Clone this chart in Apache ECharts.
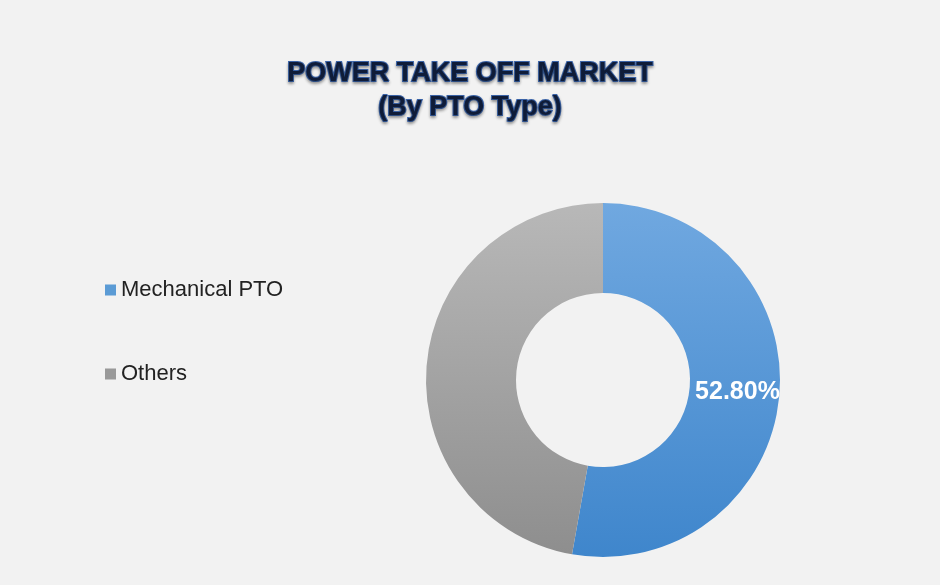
<!DOCTYPE html>
<html><head><meta charset="utf-8">
<script src="https://cdn.jsdelivr.net/npm/echarts@6/dist/echarts.min.js"></script>
<style>html,body{margin:0;background:#f2f2f2}#c{width:940px;height:585px}</style>
</head><body><div id="c"></div>
<script>
const categories = ["Mechanical PTO", "Others"];
const values = [52.8, 47.2];
const labels = ["52.80%", ""];
const colors = [
  new echarts.graphic.LinearGradient(0,0,0,1,[{offset:0,color:'#70a8e0'},{offset:1,color:'#3f86cc'}]),
  new echarts.graphic.LinearGradient(0,0,0,1,[{offset:0,color:'#b8b8b8'},{offset:1,color:'#8e8e8e'}])
];
const chart = echarts.init(document.getElementById('c'));
chart.setOption({
  backgroundColor:'#f2f2f2',
  title:{text:'POWER TAKE OFF MARKET\n(By PTO Type)',left:'center',top:52,
    textStyle:{fontFamily:'Liberation Sans',fontWeight:'bold',fontSize:27,lineHeight:34,color:'#0f1c38',
      textBorderColor:'#3a63a8',textBorderWidth:2,textShadowColor:'rgba(0,0,0,0.3)',textShadowBlur:3,textShadowOffsetY:2}},
  legend:{orient:'vertical',left:100,top:274,itemWidth:11,itemHeight:11,itemGap:62,icon:'rect',
    textStyle:{fontFamily:'Liberation Sans',fontSize:22,color:'#222'},
    data:categories.map((n,i)=>({name:n,itemStyle:{color:i?'#999':'#5b9bd5'}}))},
  series:[{type:'pie',center:[603,380],radius:[87,177],startAngle:90,clockwise:true,
    data:categories.map((n,i)=>({name:n,value:values[i],itemStyle:{color:colors[i]},
      label:{show:!!labels[i],formatter:labels[i]}})),
    label:{position:'inside',color:'#fff',fontFamily:'Liberation Sans',fontWeight:'bold',fontSize:25},
    labelLine:{show:false},emphasis:{disabled:true}}]
});
</script></body></html>
